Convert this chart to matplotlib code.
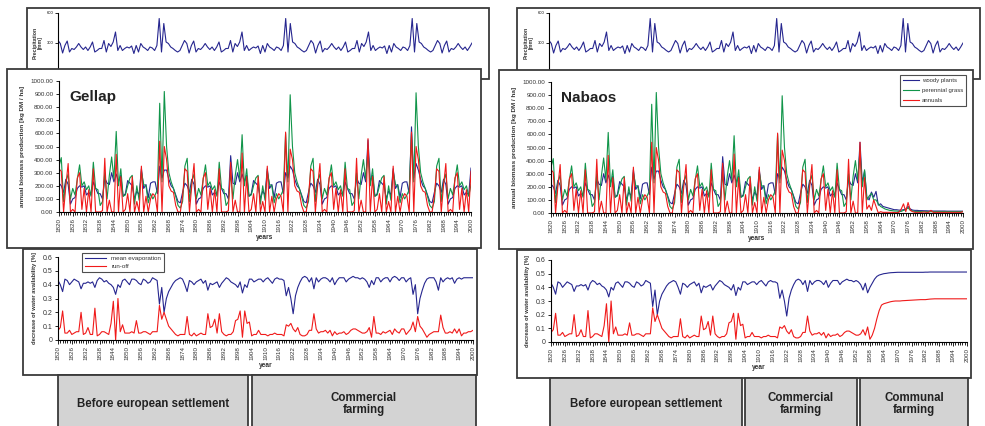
import numpy as np
import matplotlib
matplotlib.use("Agg")
import matplotlib.pyplot as plt
from matplotlib.patches import Rectangle
from matplotlib.ticker import MultipleLocator, FormatStrFormatter

plt.rcParams["font.family"] = ["Liberation Sans", "DejaVu Sans"]

# ---- data (yearly values 1820-2000) ----
years = np.arange(1820, 2001)

precip = [
    325, 295, 200, 275, 320, 210, 245, 235, 260, 295,
    260, 235, 260, 225, 260, 310, 210, 225, 245, 245,
    325, 210, 295, 265, 310, 410, 225, 275, 225, 245,
    260, 250, 270, 195, 275, 210, 295, 260, 245, 225,
    260, 250, 225, 275, 545, 210, 495, 310, 295, 260,
    245, 225, 210, 225, 275, 325, 295, 200, 275, 320,
    210, 245, 235, 260, 295, 260, 235, 260, 225, 260,
    310, 210, 225, 245, 245, 325, 210, 295, 265, 310,
    410, 225, 275, 225, 245, 260, 250, 270, 195, 275,
    210, 295, 260, 245, 225, 260, 250, 225, 275, 545,
    210, 495, 310, 295, 260, 245, 225, 210, 225, 275,
    325, 295, 200, 275, 320, 210, 245, 235, 260, 295,
    260, 235, 260, 225, 260, 310, 210, 225, 245, 245,
    325, 210, 295, 265, 310, 410, 225, 275, 225, 245,
    260, 250, 270, 195, 275, 210, 295, 260, 245, 225,
    260, 250, 225, 275, 545, 210, 495, 310, 295, 260,
    245, 225, 210, 225, 275, 325, 295, 200, 275, 320,
    210, 245, 235, 260, 295, 260, 235, 260, 225, 260,
    300,
]

gellap_woody = [
    220, 200, 150, 250, 210, 60, 100, 110, 180, 200,
    190, 200, 130, 150, 130, 230, 180, 140, 140, 100,
    260, 220, 210, 300, 230, 290, 230, 280, 120, 140,
    240, 220, 200, 100, 160, 130, 330, 180, 210, 110,
    220, 230, 230, 140, 350, 260, 320, 320, 250, 200,
    180, 130, 80, 70, 150, 220, 200, 150, 250, 210,
    60, 100, 110, 180, 200, 190, 200, 130, 150, 130,
    230, 180, 140, 140, 100, 430, 220, 210, 300, 230,
    290, 230, 280, 120, 140, 240, 220, 200, 100, 160,
    130, 330, 180, 210, 110, 220, 230, 230, 140, 300,
    260, 350, 320, 250, 200, 180, 130, 80, 70, 150,
    220, 200, 150, 250, 210, 60, 100, 110, 180, 200,
    190, 200, 130, 150, 130, 230, 180, 140, 140, 100,
    260, 220, 210, 300, 230, 550, 230, 280, 120, 140,
    240, 220, 200, 100, 160, 130, 330, 180, 210, 110,
    220, 230, 230, 140, 650, 260, 370, 320, 250, 200,
    180, 130, 80, 70, 150, 220, 200, 150, 250, 210,
    60, 100, 110, 180, 200, 190, 200, 130, 150, 130,
    335,
]

gellap_grass = [
    350, 415, 80, 230, 290, 100, 180, 130, 250, 360,
    200, 230, 170, 200, 120, 380, 180, 170, 50, 80,
    300, 100, 280, 420, 250, 615, 200, 330, 120, 130,
    200, 260, 280, 60, 200, 90, 310, 210, 200, 70,
    140, 100, 130, 170, 830, 230, 920, 500, 300, 230,
    180, 120, 50, 30, 80, 350, 410, 80, 230, 290,
    100, 180, 130, 250, 360, 200, 230, 170, 200, 120,
    380, 180, 170, 50, 80, 300, 100, 280, 400, 250,
    590, 200, 330, 120, 130, 200, 260, 280, 60, 200,
    90, 310, 210, 200, 70, 140, 100, 130, 170, 600,
    230, 895, 500, 300, 230, 180, 120, 50, 30, 80,
    350, 410, 80, 230, 290, 100, 180, 130, 250, 360,
    200, 230, 170, 200, 120, 380, 180, 170, 50, 80,
    300, 100, 280, 400, 250, 480, 200, 330, 120, 130,
    200, 260, 280, 60, 200, 90, 310, 210, 200, 70,
    140, 100, 130, 170, 600, 230, 910, 500, 300, 230,
    180, 120, 50, 30, 80, 350, 410, 80, 230, 290,
    100, 180, 130, 250, 360, 200, 230, 170, 200, 120,
    210,
]

gellap_annual = [
    330, 310, 0, 200, 370, 0, 20, 0, 260, 300,
    20, 180, 0, 170, 0, 330, 0, 0, 0, 10,
    410, 0, 90, 0, 0, 440, 0, 270, 0, 20,
    140, 0, 270, 0, 80, 0, 350, 0, 120, 0,
    100, 140, 120, 0, 540, 0, 500, 400, 200, 160,
    150, 50, 0, 0, 120, 330, 310, 0, 200, 370,
    0, 20, 0, 260, 300, 20, 180, 0, 170, 0,
    330, 0, 0, 0, 10, 380, 0, 90, 0, 0,
    450, 0, 270, 0, 20, 140, 0, 270, 0, 80,
    0, 350, 0, 120, 0, 100, 140, 120, 0, 610,
    0, 480, 400, 200, 160, 150, 50, 0, 0, 120,
    330, 310, 0, 200, 370, 0, 20, 0, 260, 300,
    20, 180, 0, 170, 0, 330, 0, 0, 0, 10,
    410, 0, 90, 0, 0, 560, 0, 270, 0, 20,
    140, 0, 270, 0, 80, 0, 350, 0, 120, 0,
    100, 140, 120, 0, 610, 0, 500, 400, 200, 160,
    150, 50, 0, 0, 120, 330, 310, 0, 200, 370,
    0, 20, 0, 260, 300, 20, 180, 0, 170, 0,
    310,
]

gellap_evap = [
    0.43, 0.40, 0.35, 0.44, 0.43, 0.40, 0.42, 0.44, 0.43, 0.42,
    0.37, 0.41, 0.41, 0.42, 0.41, 0.42, 0.38, 0.43, 0.45, 0.44,
    0.42, 0.43, 0.41, 0.40, 0.38, 0.33, 0.40, 0.38, 0.43, 0.44,
    0.42, 0.40, 0.44, 0.44, 0.43, 0.41, 0.40, 0.44, 0.43, 0.41,
    0.42, 0.45, 0.44, 0.43, 0.26, 0.38, 0.20, 0.30, 0.35, 0.38,
    0.41, 0.43, 0.44, 0.45, 0.44, 0.40, 0.35, 0.43, 0.42, 0.40,
    0.42, 0.43, 0.44, 0.41, 0.43, 0.36, 0.41, 0.40, 0.41, 0.42,
    0.38, 0.41, 0.43, 0.45, 0.44, 0.42, 0.41, 0.40, 0.38, 0.42,
    0.34, 0.40, 0.38, 0.44, 0.44, 0.42, 0.43, 0.44, 0.44, 0.42,
    0.44, 0.45, 0.43, 0.41, 0.44, 0.45, 0.44, 0.44, 0.43, 0.32,
    0.38, 0.30, 0.19, 0.32, 0.38, 0.42, 0.45, 0.46, 0.45, 0.42,
    0.45, 0.37, 0.45, 0.42, 0.44, 0.45, 0.45, 0.44, 0.42, 0.45,
    0.40, 0.43, 0.45, 0.45, 0.45, 0.42, 0.44, 0.45, 0.46, 0.45,
    0.45, 0.44, 0.45, 0.44, 0.42, 0.38, 0.43, 0.40, 0.45, 0.45,
    0.42, 0.44, 0.45, 0.45, 0.42, 0.45, 0.46, 0.45, 0.43, 0.45,
    0.45, 0.42, 0.44, 0.45, 0.33, 0.40, 0.19, 0.30, 0.36, 0.41,
    0.44, 0.45, 0.45, 0.45, 0.42, 0.36, 0.45, 0.42, 0.44, 0.45,
    0.44, 0.45, 0.41, 0.44, 0.45, 0.44, 0.45, 0.45, 0.45, 0.45,
    0.45,
]

gellap_runoff = [
    0.07, 0.09, 0.21, 0.05, 0.05, 0.07, 0.04, 0.05, 0.06, 0.06,
    0.20, 0.04, 0.05, 0.09, 0.04, 0.04, 0.23, 0.03, 0.04, 0.06,
    0.06, 0.05, 0.04, 0.12, 0.28, 0.00, 0.30, 0.06, 0.11, 0.05,
    0.05, 0.05, 0.06, 0.05, 0.14, 0.05, 0.05, 0.06, 0.06, 0.05,
    0.04, 0.06, 0.06, 0.06, 0.25, 0.15, 0.20, 0.15, 0.10, 0.08,
    0.06, 0.04, 0.03, 0.04, 0.04, 0.04, 0.17, 0.04, 0.03, 0.05,
    0.03, 0.04, 0.05, 0.04, 0.04, 0.19, 0.09, 0.10, 0.15, 0.05,
    0.19, 0.06, 0.04, 0.03, 0.04, 0.04, 0.06, 0.14, 0.15, 0.21,
    0.02, 0.21, 0.12, 0.13, 0.03, 0.04, 0.04, 0.07, 0.04, 0.04,
    0.04, 0.03, 0.04, 0.04, 0.05, 0.04, 0.04, 0.04, 0.03, 0.11,
    0.10, 0.12, 0.08, 0.06, 0.09, 0.04, 0.03, 0.03, 0.04, 0.07,
    0.07, 0.19, 0.08, 0.05, 0.06, 0.06, 0.07, 0.05, 0.07, 0.03,
    0.06, 0.04, 0.05, 0.05, 0.06, 0.04, 0.05, 0.07, 0.08, 0.08,
    0.07, 0.06, 0.05, 0.05, 0.06, 0.09, 0.02, 0.17, 0.05, 0.05,
    0.04, 0.06, 0.05, 0.06, 0.07, 0.04, 0.08, 0.06, 0.05, 0.08,
    0.08, 0.04, 0.06, 0.08, 0.13, 0.06, 0.17, 0.10, 0.08, 0.05,
    0.02, 0.04, 0.05, 0.06, 0.06, 0.06, 0.18, 0.09, 0.05, 0.05,
    0.06, 0.05, 0.08, 0.05, 0.08, 0.03, 0.05, 0.05, 0.06, 0.06,
    0.07,
]

# Nabaos follows Gellap until the 1950s, then the communal farming decline
nabaos_woody = gellap_woody[:130] + [
    260, 220, 210, 300, 230, 540, 230, 320, 120, 100,
    160, 120, 165, 60, 70, 50, 45, 40, 35, 30,
    25, 25, 22, 22, 25, 30, 50, 30, 22, 20,
    20, 18, 18, 17, 17, 16, 16, 15, 15, 15,
    15, 15, 15, 14, 14, 14, 14, 14, 14, 14,
    14,
]
nabaos_grass = gellap_grass[:130] + [
    300, 100, 280, 400, 250, 480, 200, 330, 100, 130,
    150, 100, 100, 70, 50, 40, 30, 25, 20, 18,
    15, 15, 12, 12, 20, 25, 40, 20, 15, 12,
    12, 12, 10, 10, 10, 10, 10, 10, 10, 10,
    10, 10, 10, 10, 10, 10, 10, 10, 10, 10,
    10,
]
nabaos_annual = gellap_annual[:130] + [
    410, 0, 90, 0, 0, 540, 0, 270, 30, 60,
    20, 100, 50, 0, 10, 5, 5, 5, 5, 5,
    3, 3, 5, 30, 70, 10, 80, 20, 10, 5,
    5, 5, 5, 8, 5, 5, 20, 5, 5, 5,
    5, 5, 5, 5, 5, 5, 5, 5, 5, 5,
    10,
]
nabaos_evap = gellap_evap[:130] + [
    0.45, 0.44, 0.45, 0.44, 0.42, 0.38, 0.43, 0.36, 0.40, 0.43,
    0.46, 0.48, 0.49, 0.495, 0.50, 0.502, 0.505, 0.507, 0.508, 0.509,
    0.51, 0.51, 0.51, 0.51, 0.51, 0.51, 0.51, 0.51, 0.51, 0.51,
    0.51, 0.51, 0.511, 0.511, 0.512, 0.512, 0.512, 0.512, 0.512, 0.512,
    0.512, 0.512, 0.512, 0.512, 0.512, 0.512, 0.512, 0.512, 0.512, 0.512,
    0.512,
]
nabaos_runoff = gellap_runoff[:130] + [
    0.07, 0.06, 0.05, 0.05, 0.06, 0.09, 0.05, 0.11, 0.02, 0.05,
    0.10, 0.17, 0.23, 0.27, 0.28, 0.285, 0.29, 0.295, 0.298, 0.30,
    0.30, 0.30, 0.302, 0.303, 0.304, 0.305, 0.306, 0.307, 0.308, 0.309,
    0.31, 0.31, 0.31, 0.312, 0.314, 0.315, 0.316, 0.316, 0.316, 0.316,
    0.316, 0.316, 0.316, 0.316, 0.316, 0.316, 0.316, 0.316, 0.316, 0.316,
    0.316,
]

year_ticks = list(range(1820, 2001, 6))

BLUE = "#26268f"
GREEN = "#11954a"
RED = "#f01a1a"
EDGE = "#3a3a3a"
TXT = "#333333"

W, H = 985, 426
fig = plt.figure(figsize=(9.85, 4.26), dpi=100)


def box(x0, y0, x1, y1):
    return [x0 / W, 1 - y1 / H, (x1 - x0) / W, (y1 - y0) / H]


def frame(x0, y0, x1, y1, z, fc="white"):
    fig.add_artist(Rectangle((x0 / W, 1 - y1 / H), (x1 - x0) / W, (y1 - y0) / H,
                             transform=fig.transFigure, fc=fc, ec=EDGE, lw=1.3, zorder=z))


def year_axis(ax):
    ax.set_xlim(1820, 2000)
    ax.set_xticks(year_ticks)
    ax.xaxis.set_minor_locator(MultipleLocator(1))
    ax.tick_params(axis="x", which="major", length=3, width=0.6, labelsize=4.5,
                   labelrotation=90, pad=1.5, labelcolor=TXT)
    ax.tick_params(axis="x", which="minor", length=2, width=0.6)
    ax.tick_params(axis="y", length=2.5, width=0.6, labelsize=4.5, pad=1.5, labelcolor=TXT)
    for s in ["top", "right"]:
        ax.spines[s].set_visible(False)
    for s in ["left", "bottom"]:
        ax.spines[s].set_linewidth(0.8)


def precip_panel(fx0, fx1, ax0, ax1):
    frame(fx0, 8, fx1, 79, 1)
    ax = fig.add_axes(box(ax0, 13, ax1, 73))
    ax.set_zorder(2)
    ax.patch.set_alpha(0)
    ax.plot(years, precip, color=BLUE, lw=0.8)
    ax.set_xlim(1820, 2000)
    ax.set_ylim(0, 600)
    ax.set_xticks([])
    ax.set_yticks([300, 600])
    ax.tick_params(axis="y", length=2, width=0.6, labelsize=3, pad=1)
    for s in ["top", "right", "bottom"]:
        ax.spines[s].set_visible(False)
    ax.spines["left"].set_linewidth(0.8)
    ax.set_ylabel("Precipitation\n[mm]", fontsize=3.8, fontweight="bold",
                  labelpad=3, color=TXT, linespacing=1.0)


def biomass_panel(fx0, fy0, fx1, fy1, ax0, ay_top, ax1, ay_bot,
                  woody, grass, annual, name, with_legend):
    frame(fx0, fy0, fx1, fy1, 3)
    ax = fig.add_axes(box(ax0, ay_top, ax1, ay_bot))
    ax.set_zorder(4)
    ax.patch.set_alpha(0)
    ax.plot(years, woody, color=BLUE, lw=0.8, label="woody plants")
    ax.plot(years, grass, color=GREEN, lw=0.8, label="perennial grass")
    ax.plot(years, annual, color=RED, lw=0.8, label="annuals")
    ax.set_ylim(0, 1000)
    ax.yaxis.set_major_locator(MultipleLocator(100))
    ax.yaxis.set_major_formatter(FormatStrFormatter("%.2f"))
    year_axis(ax)
    ax.set_ylabel("annual biomass production [kg DM / ha]", fontsize=4.6,
                  fontweight="bold", labelpad=4, color=TXT)
    ax.set_xlabel("years", fontsize=4.8, fontweight="bold", labelpad=1, color=TXT)
    ax.text(0.025, 0.93, name, transform=ax.transAxes, fontsize=11,
            fontweight="bold", color="#222222", va="top", ha="left")
    if with_legend:
        leg = ax.legend(loc="upper left", bbox_to_anchor=(900 / W, 1 - 75 / H),
                        bbox_transform=fig.transFigure, fontsize=4.3, frameon=True,
                        fancybox=False, edgecolor="#222222", handlelength=2.6,
                        handletextpad=0.6, borderpad=0.5, labelspacing=0.8,
                        borderaxespad=0)
        leg.get_frame().set_linewidth(0.8)
        for t in leg.get_texts():
            t.set_color(TXT)


def water_panel(fx0, fy0, fx1, fy1, ax0, ay_top, ax1, ay_bot,
                evap, runoff, with_legend):
    frame(fx0, fy0, fx1, fy1, 5)
    ax = fig.add_axes(box(ax0, ay_top, ax1, ay_bot))
    ax.set_zorder(6)
    ax.patch.set_alpha(0)
    ax.plot(years, evap, color=BLUE, lw=0.8, label="mean evaporation")
    ax.plot(years, runoff, color=RED, lw=0.8, label="run-off")
    ax.set_ylim(0, 0.6)
    ax.set_yticks([0, 0.1, 0.2, 0.3, 0.4, 0.5, 0.6])
    ax.set_yticklabels(["0", "0.1", "0.2", "0.3", "0.4", "0.5", "0.6"])
    year_axis(ax)
    ax.tick_params(axis="y", labelsize=5)
    ax.set_ylabel("decrease of water availability [%]", fontsize=4.2,
                  fontweight="bold", labelpad=4, color=TXT)
    ax.set_xlabel("year", fontsize=4.8, fontweight="bold", labelpad=1, color=TXT)
    if with_legend:
        leg = ax.legend(loc="upper left", bbox_to_anchor=(82 / W, 1 - 253 / H),
                        bbox_transform=fig.transFigure, fontsize=4.5, frameon=True,
                        fancybox=False, edgecolor="#222222", handlelength=3.5,
                        borderpad=0.4, labelspacing=0.5, borderaxespad=0)
        leg.get_frame().set_linewidth(0.8)
        for t in leg.get_texts():
            t.set_color(TXT)


def phase_boxes(spans):
    for x0, x1, y0, label in spans:
        frame(x0, y0, x1, 432, 10, fc="#d3d3d3")
        fig.text((x0 + x1) / 2 / W, 1 - 404 / H, label, ha="center", va="center",
                 fontsize=8.3, fontweight="bold", color="#222222", zorder=11,
                 linespacing=1.1)


# left: Gellap
precip_panel(27, 489, 58, 472)
biomass_panel(7, 69, 481, 248, 59, 81, 471, 212,
              gellap_woody, gellap_grass, gellap_annual, "Gellap", False)
water_panel(23, 249, 477, 375, 58, 257, 473, 340,
            gellap_evap, gellap_runoff, True)
phase_boxes([(58, 248, 375, "Before european settlement"),
             (252, 476, 375, "Commercial\nfarming")])

# right: Nabaos
precip_panel(517, 980, 549, 963)
biomass_panel(499, 70, 973, 249, 551, 82, 963, 213,
              nabaos_woody, nabaos_grass, nabaos_annual, "Nabaos", True)
water_panel(517, 250, 971, 378, 551, 260, 967, 342,
            nabaos_evap, nabaos_runoff, False)
phase_boxes([(550, 742, 378, "Before european settlement"),
             (745, 857, 378, "Commercial\nfarming"),
             (860, 968, 378, "Communal\nfarming")])

fig.savefig("out.png", dpi=100)
